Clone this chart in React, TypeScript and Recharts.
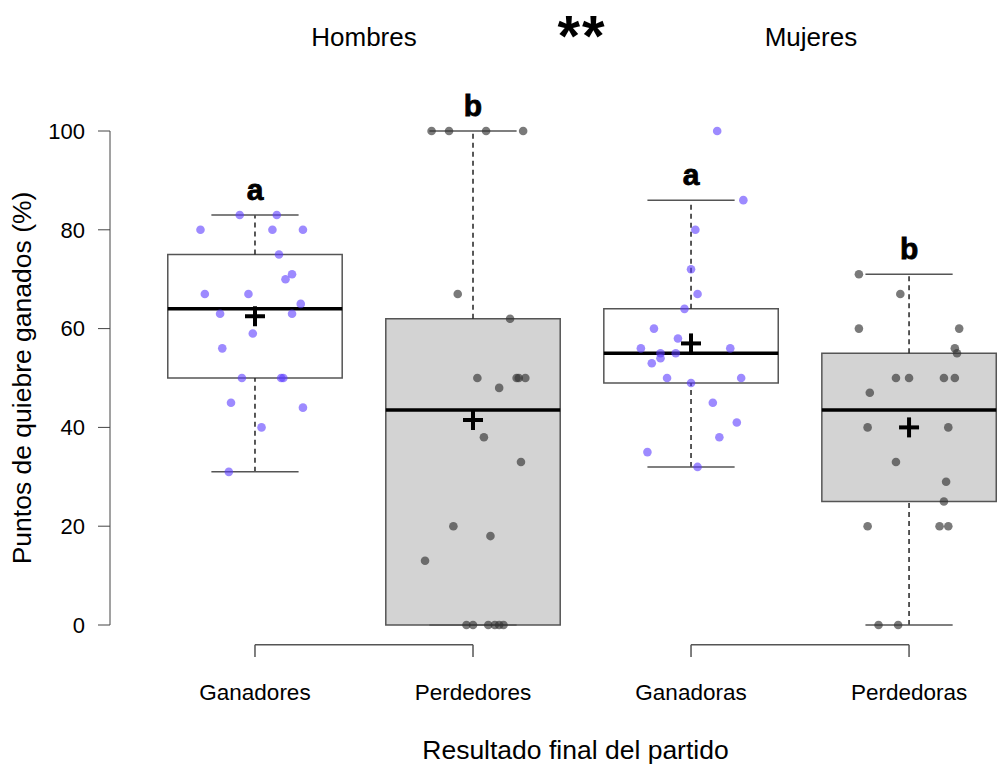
import React from "react";
import {
  ComposedChart,
  XAxis,
  YAxis,
  Scatter,
  ReferenceArea,
  ReferenceLine,
  ReferenceDot,
} from "recharts";

// box stats per group (Ganadores, Perdedores, Ganadoras, Perdedoras)
const groups = ["Ganadores", "Perdedores", "Ganadoras", "Perdedoras"];
const letters = ["a", "b", "a", "b"];
const q1 = [50, 0, 49, 25];
const medians = [64, 43.5, 55, 43.5];
const q3 = [75, 62, 64, 55];
const whiskerLow = [31, 0, 32, 0];
const whiskerHigh = [83, 100, 86, 71];
const means = [62.5, 41.5, 57, 40];

// jittered raw points: value + horizontal offset (in category units)
const ganadoresY = [83, 83, 80, 80, 80, 75, 71, 70, 67, 67, 65, 63, 63, 59, 56, 50, 50, 50, 45, 44, 40, 31];
const ganadoresJitter = [-0.07, 0.1, -0.25, 0.08, 0.22, 0.11, 0.17, 0.14, -0.23, -0.03, 0.21, -0.16, 0.17, -0.01, -0.15, -0.06, 0.12, 0.13, -0.11, 0.22, 0.03, -0.12];
const perdedoresY = [100, 100, 100, 100, 67, 62, 50, 50, 50, 50, 48, 38, 33, 20, 18, 13, 0, 0, 0, 0, 0, 0];
const perdedoresJitter = [-0.19, -0.11, 0.06, 0.23, -0.07, 0.17, 0.02, 0.2, 0.21, 0.24, 0.12, 0.05, 0.22, -0.09, 0.08, -0.22, -0.03, 0.0, 0.07, 0.1, 0.12, 0.14];
const ganadorasY = [100, 86, 80, 72, 67, 64, 60, 58, 56, 56, 55, 55, 54, 53, 50, 50, 49, 45, 41, 38, 35, 32];
const ganadorasJitter = [0.12, 0.24, 0.02, 0.0, 0.03, -0.03, -0.17, -0.06, -0.23, 0.18, -0.14, -0.07, -0.14, -0.18, -0.11, 0.23, 0.0, 0.1, 0.21, 0.13, -0.2, 0.03];
const perdedorasY = [71, 67, 60, 60, 56, 55, 50, 50, 50, 50, 47, 40, 40, 33, 29, 25, 20, 20, 20, 0, 0];
const perdedorasJitter = [-0.23, -0.04, -0.23, 0.23, 0.21, 0.22, -0.06, 0.0, 0.16, 0.21, -0.18, -0.19, 0.18, -0.06, 0.17, 0.16, -0.19, 0.14, 0.18, -0.14, -0.05];

const yTicks = [0, 20, 40, 60, 80, 100];

const toPoints = (g: number, ys: number[], jit: number[]) =>
  ys.map((y, i) => ({ x: g + jit[i], y }));

const winnersPts = [
  ...toPoints(1, ganadoresY, ganadoresJitter),
  ...toPoints(3, ganadorasY, ganadorasJitter),
];
const losersPts = [
  ...toPoints(2, perdedoresY, perdedoresJitter),
  ...toPoints(4, perdedorasY, perdedorasJitter),
];
const meanPts = means.map((m, i) => ({ x: i + 1, y: m }));

const FONT = "'Liberation Sans', Arial, Helvetica, sans-serif";
const BOX_HALF = 0.4;
const CAP_HALF = 0.2;

const PurpleDot = (p: any) => (
  <circle cx={p.cx} cy={p.cy} r={4.3} fill="#5b3cff" fillOpacity={0.6} />
);
const GrayDot = (p: any) => (
  <circle cx={p.cx} cy={p.cy} r={4.3} fill="#333" fillOpacity={0.65} />
);
const Plus = (p: any) => (
  <g stroke="#000" strokeWidth={4}>
    <line x1={p.cx - 10} x2={p.cx + 10} y1={p.cy} y2={p.cy} />
    <line x1={p.cx} x2={p.cx} y1={p.cy - 10} y2={p.cy + 10} />
  </g>
);

const textLabel = (value: string, size: number, bold = false, spacing = 0) => ({
  value,
  position: "center" as const,
  fill: "#000",
  fontSize: size,
  fontWeight: bold ? 900 : 400,
  fontFamily: FONT,
  letterSpacing: spacing,
});

export default function App() {
  return (
    <div style={{ position: "absolute", left: 0, top: 0, width: 998, height: 765, background: "#fff" }}>
      <ComposedChart
        width={998}
        height={765}
        margin={{ top: 131, right: 0, bottom: 0, left: 0 }}
        style={{ fontFamily: FONT }}
      >
        <XAxis
          type="number"
          dataKey="x"
          domain={[0.335, 4.408]}
          allowDataOverflow
          ticks={[1, 2, 3, 4]}
          tickFormatter={(v: number) => groups[v - 1] ?? ""}
          axisLine={false}
          tickLine={false}
          tickSize={0}
          tickMargin={59}
          height={140}
          tick={{ fill: "#000", fontSize: 22.5, fontFamily: FONT }}
        />
        <YAxis
          type="number"
          dataKey="y"
          domain={[0, 100]}
          ticks={yTicks}
          width={110}
          tickSize={12}
          tickMargin={13}
          stroke="#444"
          tick={{ fill: "#000", fontSize: 22, fontFamily: FONT }}
          label={{
            value: "Puntos de quiebre ganados (%)",
            angle: -90,
            position: "insideLeft",
            offset: 22,
            fill: "#000",
            fontSize: 26.5,
            fontFamily: FONT,
            style: { textAnchor: "middle" },
          }}
        />

        {/* boxes */}
        {groups.map((g, i) => (
          <ReferenceArea
            key={"box" + g}
            x1={i + 1 - BOX_HALF}
            x2={i + 1 + BOX_HALF}
            y1={q1[i]}
            y2={q3[i]}
            fill={i % 2 === 1 ? "#d3d3d3" : "#fff"}
            fillOpacity={1}
            stroke="#555"
            strokeWidth={1.5}
            ifOverflow="visible"
          />
        ))}
        {/* whiskers */}
        {groups.map((g, i) => (
          <ReferenceLine
            key={"wu" + g}
            segment={[{ x: i + 1, y: q3[i] }, { x: i + 1, y: whiskerHigh[i] }]}
            stroke="#222"
            strokeWidth={1.5}
            strokeDasharray="5 4"
            ifOverflow="visible"
          />
        ))}
        {groups.map((g, i) => (
          <ReferenceLine
            key={"wl" + g}
            segment={[{ x: i + 1, y: whiskerLow[i] }, { x: i + 1, y: q1[i] }]}
            stroke="#222"
            strokeWidth={1.5}
            strokeDasharray="5 4"
            ifOverflow="visible"
          />
        ))}
        {groups.map((g, i) => (
          <ReferenceLine
            key={"cu" + g}
            segment={[{ x: i + 1 - CAP_HALF, y: whiskerHigh[i] }, { x: i + 1 + CAP_HALF, y: whiskerHigh[i] }]}
            stroke="#555"
            strokeWidth={1.5}
            ifOverflow="visible"
          />
        ))}
        {groups.map((g, i) => (
          <ReferenceLine
            key={"cl" + g}
            segment={[{ x: i + 1 - CAP_HALF, y: whiskerLow[i] }, { x: i + 1 + CAP_HALF, y: whiskerLow[i] }]}
            stroke="#555"
            strokeWidth={1.5}
            ifOverflow="visible"
          />
        ))}
        {groups.map((g, i) => (
          <ReferenceLine
            key={"md" + g}
            segment={[{ x: i + 1 - BOX_HALF, y: medians[i] }, { x: i + 1 + BOX_HALF, y: medians[i] }]}
            stroke="#000"
            strokeWidth={3.5}
            ifOverflow="visible"
          />
        ))}

        {/* brackets under the axis */}
        {[1, 3].map((g) => (
          <ReferenceLine
            key={"br" + g}
            segment={[{ x: g, y: -6.5 }, { x: g, y: -4 }]}
            stroke="#555"
            strokeWidth={1.5}
            ifOverflow="visible"
          />
        ))}
        {[1, 3].map((g) => (
          <ReferenceLine
            key={"brh" + g}
            segment={[{ x: g, y: -4 }, { x: g + 1, y: -4 }]}
            stroke="#555"
            strokeWidth={1.5}
            ifOverflow="visible"
          />
        ))}
        {[2, 4].map((g) => (
          <ReferenceLine
            key={"brr" + g}
            segment={[{ x: g, y: -4 }, { x: g, y: -6.5 }]}
            stroke="#555"
            strokeWidth={1.5}
            ifOverflow="visible"
          />
        ))}

        <Scatter data={winnersPts} shape={PurpleDot} isAnimationActive={false} />
        <Scatter data={losersPts} shape={GrayDot} isAnimationActive={false} />
        <Scatter data={meanPts} shape={Plus} isAnimationActive={false} />

        {/* significance letters */}
        {letters.map((l, i) => (
          <ReferenceDot
            key={"lt" + i}
            x={i + 1}
            y={whiskerHigh[i]}
            r={0}
            ifOverflow="visible"
            label={{
              value: l,
              position: "top",
              offset: 15,
              fill: "#000",
              fontSize: 30,
              fontWeight: 900,
              fontFamily: FONT,
              stroke: "#000",
              strokeWidth: 0.8,
            }}
          />
        ))}

        {/* top annotations and x title */}
        <ReferenceDot x={1.5} y={119} r={0} ifOverflow="visible" label={textLabel("Hombres", 26)} />
        <ReferenceDot x={2.5} y={119.3} r={0} ifOverflow="visible" label={textLabel("**", 58, true, 2)} />
        <ReferenceDot x={3.55} y={119} r={0} ifOverflow="visible" label={textLabel("Mujeres", 26)} />
        <ReferenceDot x={2.47} y={-25.3} r={0} ifOverflow="visible" label={textLabel("Resultado final del partido", 26.5)} />
      </ComposedChart>
    </div>
  );
}
